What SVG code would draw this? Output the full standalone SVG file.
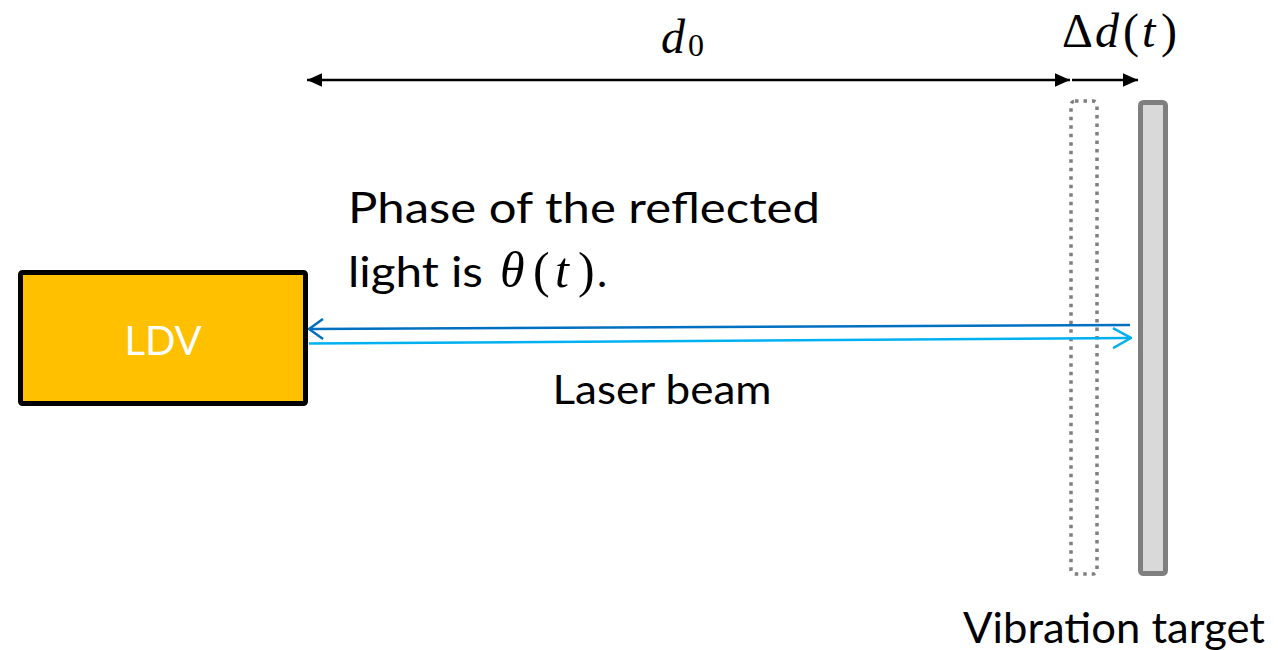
<svg xmlns="http://www.w3.org/2000/svg" width="1278" height="650" viewBox="0 0 1278 650">
<style>
.t{font-family:Lato,"Open Sans","Liberation Sans",sans-serif;fill:#000}
.m{font-family:"Liberation Serif","DejaVu Serif",serif;fill:#000}
.i{font-style:italic}
.dim{stroke:#000;stroke-width:2.5;fill:none}
</style>
<defs>
<marker id="ah" viewBox="0 0 10 10" refX="10" refY="5" markerWidth="6" markerHeight="6" orient="auto-start-reverse" markerUnits="strokeWidth">
<path d="M0,0.5 L10,5 L0,9.5 z" fill="#000"/>
</marker>
<marker id="ob" viewBox="0 0 16 22" refX="15" refY="11" markerWidth="16" markerHeight="22" orient="auto" markerUnits="userSpaceOnUse">
<path d="M1,1 L15,11 L1,21" fill="none" stroke="#0070c0" stroke-width="2.5"/>
</marker>
<marker id="oc" viewBox="0 0 20 22" refX="19" refY="11" markerWidth="20" markerHeight="22" orient="auto" markerUnits="userSpaceOnUse">
<path d="M1,1 L19,11 L1,21" fill="none" stroke="#00b0f0" stroke-width="2.5"/>
</marker>
</defs>
<rect width="1278" height="650" fill="#fff"/>
<g id="ldv">
<rect x="20.5" y="272.5" width="285" height="131" fill="#ffc000" stroke="#000" stroke-width="5" rx="2"/>
<text class="t" x="163" y="355" font-size="40" text-anchor="middle" style="fill:#fff">LDV</text>
</g>
<g id="target-rest">
<rect x="1071" y="101" width="26" height="473" rx="4" fill="none" stroke="#7f7f7f" stroke-width="3.5" stroke-dasharray="3.5 5"/>
</g>
<g id="target">
<rect x="1140.5" y="102.5" width="25" height="471" rx="3" fill="#d9d9d9" stroke="#7f7f7f" stroke-width="5"/>
<text class="t" x="1114" y="643" font-size="42" text-anchor="middle" textLength="302" lengthAdjust="spacingAndGlyphs">Vibration target</text>
</g>
<g id="connectors">
<line class="dim" x1="307" y1="80" x2="1070" y2="80" marker-start="url(#ah)" marker-end="url(#ah)"/>
<line class="dim" x1="1072" y1="80" x2="1138" y2="80" marker-end="url(#ah)"/>
<line x1="1130" y1="325" x2="309" y2="329" stroke="#0070c0" stroke-width="2.5" marker-end="url(#ob)"/>
<line x1="309" y1="343.5" x2="1131" y2="338" stroke="#00b0f0" stroke-width="2.5" marker-end="url(#oc)"/>
</g>
<g id="labels">
<text class="m i" x="661" y="53" font-size="48">d</text>
<text class="m" x="688" y="56" font-size="32">0</text>
<text class="m" y="47" font-size="48"><tspan x="1062">Δ</tspan><tspan class="i" x="1095">d</tspan><tspan x="1123">(</tspan><tspan class="i" x="1142">t</tspan><tspan x="1161">)</tspan></text>
<text class="t" x="348" y="223" font-size="43" textLength="472" lengthAdjust="spacingAndGlyphs">Phase of the reflected</text>
<text class="t" x="348" y="287" font-size="43" textLength="135" lengthAdjust="spacingAndGlyphs">light is</text>
<text class="m" y="287" font-size="50"><tspan class="i" x="500">θ</tspan><tspan x="533">(</tspan><tspan class="i" x="555">t</tspan><tspan x="578">)</tspan></text>
<text class="t" x="597" y="287" font-size="43">.</text>
<text class="t" x="662" y="404" font-size="41" text-anchor="middle" textLength="219" lengthAdjust="spacingAndGlyphs">Laser beam</text>
</g>
</svg>
